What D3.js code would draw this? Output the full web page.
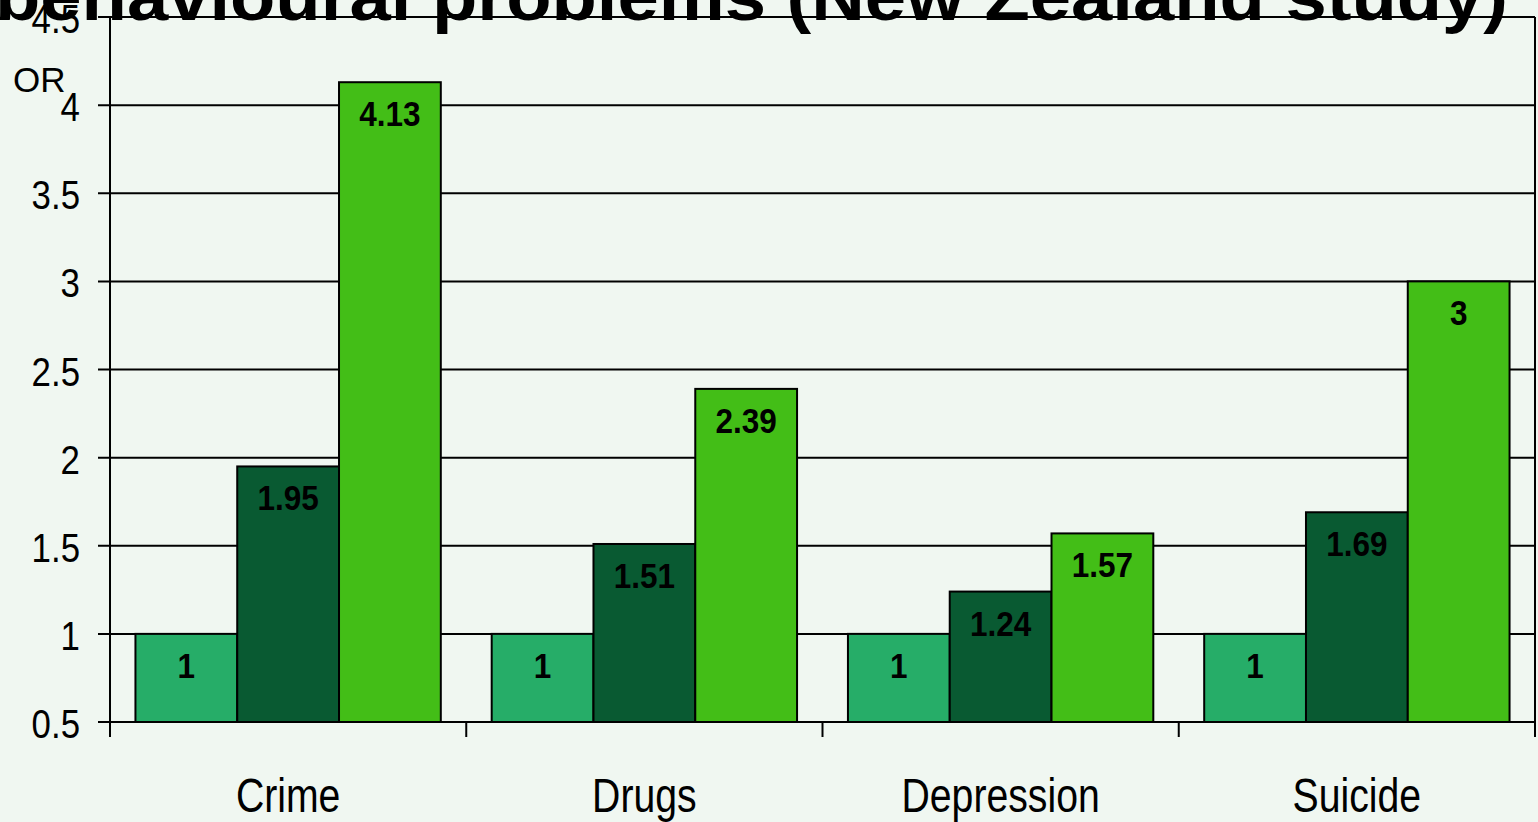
<!DOCTYPE html>
<html>
<head>
<meta charset="utf-8">
<script src="https://cdn.jsdelivr.net/npm/d3@7"></script>
<style>
  html, body { margin: 0; padding: 0; background: #f0f7f1; overflow: hidden; }
  svg { display: block; }
  text { font-family: "Liberation Sans", Arial, Helvetica, sans-serif; fill: #000; }
</style>
</head>
<body>
<svg id="chart" width="1538" height="822"></svg>
<script>
// Odds ratios by outcome, three groups per outcome
const categories = ["Crime", "Drugs", "Depression", "Suicide"];
const seriesKeys = ["groupA", "groupB", "groupC"];
const groupA = [1, 1, 1, 1];
const groupB = [1.95, 1.51, 1.24, 1.69];
const groupC = [4.13, 2.39, 1.57, 3];
const yTicks = [0.5, 1, 1.5, 2, 2.5, 3, 3.5, 4, 4.5];
const yTickLabels = ["0.5", "1", "1.5", "2", "2.5", "3", "3.5", "4", "4.5"];
const titleText = "behavioural problems (New Zealand study)";
const yAxisLabel = "OR";

const seriesValues = { groupA, groupB, groupC };
const colors = { groupA: "#26ad68", groupB: "#095a32", groupC: "#43be17" };

const W = 1538, H = 822;
const plot = { left: 110, right: 1535, top: 17, bottom: 722 };

const svg = d3.select("#chart");
svg.append("rect").attr("width", W).attr("height", H).attr("fill", "#f0f7f1");

const y = d3.scaleLinear().domain([0.5, 4.5]).range([plot.bottom, plot.top]);
const x0 = d3.scaleBand().domain(categories).range([plot.left, plot.right]).padding(0);
const x1 = d3.scaleBand().domain(seriesKeys).range([0, x0.bandwidth()])
  .paddingInner(0).paddingOuter(0.25);

// horizontal gridlines with short ticks left of the axis
const grid = svg.append("g");
grid.selectAll("line").data(yTicks).join("line")
  .attr("x1", plot.left - 12).attr("x2", plot.right)
  .attr("y1", d => y(d)).attr("y2", d => y(d))
  .attr("stroke", "#000").attr("stroke-width", 2);

// bars
const rows = categories.map((c, i) => ({
  category: c,
  bars: seriesKeys.map(k => ({ key: k, value: seriesValues[k][i] }))
}));

const groups = svg.append("g").selectAll("g").data(rows).join("g")
  .attr("transform", d => `translate(${x0(d.category)},0)`);

groups.selectAll("rect").data(d => d.bars).join("rect")
  .attr("x", d => x1(d.key))
  .attr("width", x1.bandwidth())
  .attr("y", d => y(d.value))
  .attr("height", d => y(0.5) - y(d.value))
  .attr("fill", d => colors[d.key])
  .attr("stroke", "#000").attr("stroke-width", 2);

groups.selectAll("text").data(d => d.bars).join("text")
  .attr("transform", d => `translate(${x1(d.key) + x1.bandwidth() / 2},${y(d.value) + 44}) scale(0.9,1)`)
  .attr("text-anchor", "middle")
  .style("font-size", "35px").style("font-weight", "bold")
  .text(d => d3.format("~")(d.value));

// axes frame: left axis, bottom axis, right edge
svg.append("line").attr("x1", plot.left).attr("x2", plot.left)
  .attr("y1", plot.top).attr("y2", plot.bottom + 15)
  .attr("stroke", "#000").attr("stroke-width", 2);
svg.append("line").attr("x1", plot.right).attr("x2", plot.right)
  .attr("y1", plot.top).attr("y2", plot.bottom + 15)
  .attr("stroke", "#000").attr("stroke-width", 2);
svg.append("line").attr("x1", plot.left).attr("x2", plot.right)
  .attr("y1", plot.bottom).attr("y2", plot.bottom)
  .attr("stroke", "#000").attr("stroke-width", 2);

// category boundary ticks below the axis
const boundaries = categories.slice(1).map(c => x0(c));
svg.append("g").selectAll("line").data(boundaries).join("line")
  .attr("x1", d => d).attr("x2", d => d)
  .attr("y1", plot.bottom).attr("y2", plot.bottom + 15)
  .attr("stroke", "#000").attr("stroke-width", 2);

// y tick labels
svg.append("g").selectAll("text").data(yTicks).join("text")
  .attr("transform", d => `translate(80,${y(d) + 16}) scale(0.86,1)`)
  .attr("text-anchor", "end")
  .style("font-size", "40.5px")
  .text((d, i) => yTickLabels[i]);

// category labels
svg.append("g").selectAll("text").data(categories).join("text")
  .attr("transform", d => `translate(${x0(d) + x0.bandwidth() / 2},812) scale(0.825,1)`)
  .attr("text-anchor", "middle")
  .style("font-size", "47.5px")
  .text(d => d);

// y axis label
svg.append("text").attr("x", 13).attr("y", 92)
  .style("font-size", "35px").text(yAxisLabel);

// title, partly above the top edge
svg.append("text").attr("x", -5).attr("y", 20)
  .attr("textLength", 1513).attr("lengthAdjust", "spacingAndGlyphs")
  .style("font-size", "68px").style("font-weight", "bold")
  .text(titleText);
</script>
</body>
</html>
